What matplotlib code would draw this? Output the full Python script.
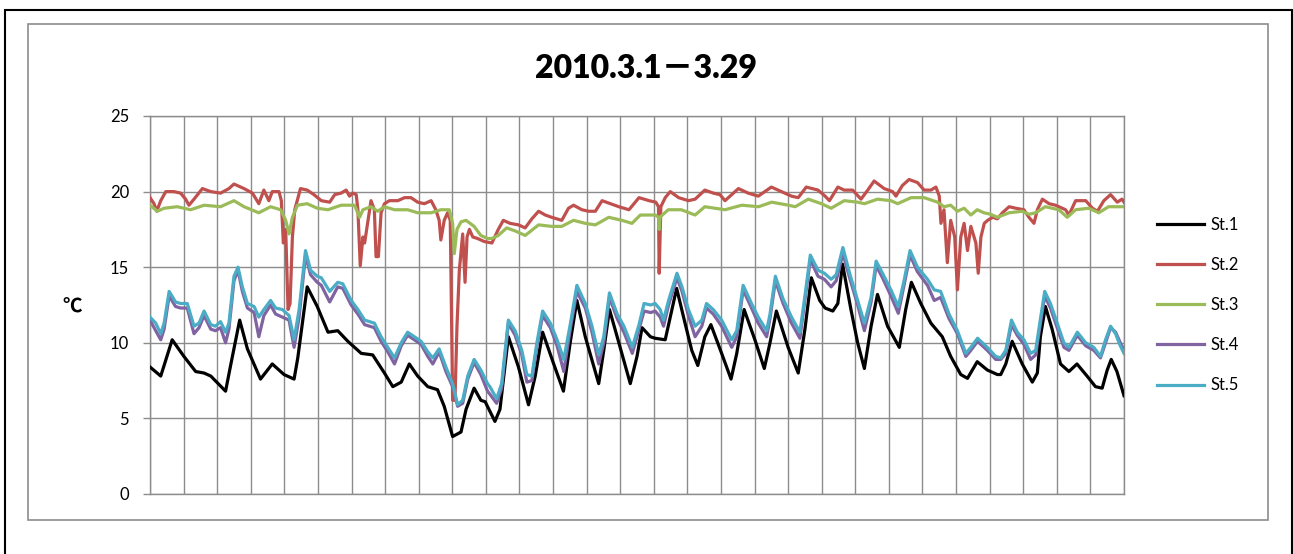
import matplotlib
matplotlib.use("Agg")
import matplotlib.pyplot as plt
from matplotlib.patches import Rectangle

# ---- data: elapsed days since 2010-03-01 00:00 and water temperature (°C) ----
st1_day = [0.00, 0.32, 0.66, 1.01, 1.36, 1.61, 1.81, 2.25, 2.40, 2.67, 2.90, 3.29, 3.64, 3.99,
           4.29, 4.40, 4.68, 4.98, 5.30, 5.59, 5.89, 6.29, 6.63, 6.98, 7.23, 7.48, 7.72, 7.97,
           8.27, 8.56, 8.76, 9.01, 9.26, 9.41, 9.65, 9.85, 9.98, 10.27, 10.42, 10.67, 10.97,
           11.27, 11.47, 11.69, 12.02, 12.31, 12.51, 12.71, 12.96, 13.36, 13.51, 13.68, 13.96,
           14.30, 14.50, 14.65, 14.90, 15.04, 15.34, 15.49, 15.68, 15.93, 16.13, 16.31, 16.52,
           16.70, 17.02, 17.30, 17.47, 17.69, 18.01, 18.29, 18.46, 18.65, 19.00, 19.30, 19.50,
           19.69, 19.94, 20.10, 20.33, 20.48, 20.62, 20.87, 21.07, 21.27, 21.47, 21.66, 21.96,
           22.31, 22.50, 22.67, 22.95, 23.25, 23.59, 23.84, 24.14, 24.34, 24.63, 24.93, 25.23,
           25.33, 25.48, 25.67, 25.97, 26.27, 26.42, 26.51, 26.66, 26.86, 27.11, 27.36, 27.60,
           27.90, 28.15, 28.35, 28.50, 28.62, 28.79, 29.00]
st1_temp = [8.4, 7.8, 10.2, 9.1, 8.1, 8.0, 7.8, 6.8, 8.5, 11.5, 9.6, 7.6, 8.6, 7.9,
            7.6, 9.0, 13.7, 12.4, 10.7, 10.8, 10.1, 9.3, 9.2, 8.0, 7.1, 7.4, 8.6, 7.8,
            7.1, 6.9, 5.8, 3.8, 4.1, 5.6, 7.0, 6.2, 6.1, 4.8, 5.6, 10.4, 8.4,
            5.9, 7.8, 10.7, 8.6, 6.8, 10.0, 12.8, 10.4, 7.3, 9.5, 12.2, 10.0,
            7.3, 9.1, 11.0, 10.4, 10.3, 10.2, 11.7, 13.6, 11.3, 9.5, 8.5, 10.4,
            11.2, 9.3, 7.6, 9.3, 12.2, 10.2, 8.3, 10.0, 12.1, 9.7, 8.0, 10.9,
            14.3, 12.8, 12.3, 12.1, 12.6, 15.2, 12.2, 10.0, 8.3, 11.1, 13.2, 11.1,
            9.7, 12.2, 14.0, 12.6, 11.3, 10.4, 9.1, 7.9, 7.65, 8.75, 8.2, 7.9,
            7.9, 8.6, 10.1, 8.6, 7.4, 8.0, 10.4, 12.4, 10.9, 8.6, 8.1, 8.6,
            7.8, 7.1, 7.0, 8.2, 8.9, 8.1, 6.5]

st2_day = [0.00, 0.12, 0.20, 0.32, 0.47, 0.71, 0.91, 1.06, 1.16, 1.31, 1.56, 1.81, 2.10, 2.35,
           2.50, 2.80, 3.05, 3.24, 3.39, 3.54, 3.64, 3.84, 3.91, 3.97, 4.04, 4.11, 4.17, 4.24,
           4.31, 4.48, 4.68, 4.88, 5.10, 5.35, 5.50, 5.69, 5.84, 5.94, 6.04, 6.14, 6.19, 6.26,
           6.34, 6.39, 6.49, 6.58, 6.68, 6.73, 6.80, 6.88, 6.98, 7.13, 7.38, 7.58, 7.77, 7.97,
           8.17, 8.37, 8.51, 8.61, 8.66, 8.76, 8.86, 8.94, 9.01, 9.08, 9.14, 9.21, 9.31, 9.38,
           9.44, 9.51, 9.61, 9.75, 9.95, 10.18, 10.37, 10.52, 10.72, 10.97, 11.17, 11.37, 11.57,
           11.77, 11.96, 12.26, 12.46, 12.61, 12.86, 13.06, 13.26, 13.46, 13.71, 13.96, 14.26,
           14.56, 14.86, 15.06, 15.14, 15.16, 15.21, 15.34, 15.49, 15.74, 16.03, 16.23, 16.52,
           16.77, 16.97, 17.12, 17.52, 17.81, 18.11, 18.50, 18.80, 19.10, 19.30, 19.54, 19.89,
           20.10, 20.23, 20.48, 20.67, 20.92, 21.17, 21.37, 21.56, 21.86, 22.11, 22.21, 22.40,
           22.60, 22.85, 23.05, 23.25, 23.40, 23.50, 23.55, 23.64, 23.74, 23.84, 23.96, 24.04,
           24.14, 24.24, 24.34, 24.44, 24.59, 24.66, 24.74, 24.84, 24.94, 25.09, 25.23, 25.38,
           25.58, 25.78, 26.02, 26.17, 26.32, 26.42, 26.57, 26.77, 26.96, 27.26, 27.36, 27.56,
           27.86, 28.06, 28.21, 28.40, 28.60, 28.80, 28.94, 29.00]
st2_temp = [19.6, 19.2, 18.7, 19.4, 20.0, 20.0, 19.9, 19.5, 19.1, 19.5, 20.2, 20.0, 19.9, 20.2,
            20.5, 20.2, 19.9, 19.2, 20.1, 19.4, 20.0, 20.0, 19.4, 16.6, 17.5, 12.2, 12.6, 17.0,
            18.8, 20.2, 20.1, 19.8, 19.4, 19.3, 19.8, 19.9, 20.1, 19.7, 19.9, 19.8, 18.8, 15.1,
            17.0, 16.6, 18.1, 19.4, 18.8, 15.7, 15.7, 18.6, 19.2, 19.4, 19.4, 19.6, 19.6, 19.3,
            19.2, 19.4, 18.8, 18.1, 16.8, 18.1, 18.6, 18.1, 6.2, 6.2, 11.1, 14.8, 17.2, 14.0,
            17.0, 17.5, 17.0, 16.9, 16.7, 16.6, 17.5, 18.1, 17.9, 17.8, 17.6, 18.2, 18.7,
            18.45, 18.3, 18.1, 18.9, 19.1, 18.8, 18.7, 18.7, 19.4, 19.2, 19.0, 18.8,
            19.6, 19.4, 19.3, 19.0, 14.6, 19.0, 19.6, 20.0, 19.6, 19.4, 19.5, 20.1,
            19.9, 19.8, 19.4, 20.2, 19.9, 19.7, 20.3, 20.0, 19.7, 19.6, 20.3, 20.1,
            19.7, 19.4, 20.3, 20.1, 20.1, 19.5, 20.1, 20.7, 20.2, 20.0, 19.7, 20.4,
            20.8, 20.6, 20.1, 20.1, 20.3, 19.7, 17.9, 18.8, 15.3, 18.1, 17.0, 13.5,
            17.0, 17.9, 16.1, 17.7, 16.6, 14.6, 17.0, 17.9, 18.1, 18.3, 18.2, 18.6,
            19.0, 18.9, 18.8, 18.3, 17.9, 18.8, 19.5, 19.2, 19.1, 18.8, 18.45, 19.4,
            19.4, 18.9, 18.7, 19.4, 19.8, 19.3, 19.5, 19.3]

st3_day = [0.00, 0.22, 0.42, 0.81, 1.21, 1.61, 2.10, 2.50, 2.80, 3.24, 3.59, 3.89, 4.04, 4.14,
           4.24, 4.39, 4.68, 4.98, 5.30, 5.69, 6.09, 6.24, 6.34, 6.58, 6.78, 6.98, 7.28, 7.67,
           7.97, 8.37, 8.66, 8.91, 9.01, 9.06, 9.14, 9.26, 9.41, 9.65, 9.85, 10.05, 10.18,
           10.37, 10.62, 10.87, 11.17, 11.57, 11.96, 12.26, 12.61, 12.96, 13.26, 13.66, 14.05,
           14.35, 14.60, 15.05, 15.14, 15.16, 15.18, 15.43, 15.82, 16.23, 16.52, 17.12, 17.62,
           18.12, 18.51, 19.01, 19.21, 19.60, 19.99, 20.28, 20.67, 21.07, 21.27, 21.66, 22.06,
           22.26, 22.66, 23.05, 23.45, 23.64, 23.84, 24.04, 24.24, 24.44, 24.63, 24.83, 25.03,
           25.23, 25.58, 25.97, 26.17, 26.37, 26.66, 27.06, 27.31, 27.56, 27.95, 28.25, 28.54,
           29.00]
st3_temp = [19.1, 18.7, 18.9, 19.0, 18.8, 19.1, 19.0, 19.4, 19.0, 18.6, 19.0, 18.8, 18.1, 17.2,
            18.3, 19.1, 19.2, 18.9, 18.8, 19.1, 19.1, 18.3, 18.8, 19.0, 18.7, 19.0, 18.8, 18.8,
            18.6, 18.6, 18.8, 18.8, 17.9, 15.9, 17.5, 18.0, 18.1, 17.7, 17.1, 16.9, 16.9,
            17.1, 17.6, 17.4, 17.1, 17.8, 17.7, 17.7, 18.1, 17.9, 17.8, 18.3, 18.1,
            17.9, 18.45, 18.45, 18.3, 17.5, 18.3, 18.8, 18.8, 18.45, 19.0, 18.8, 19.1,
            19.0, 19.3, 19.1, 19.0, 19.5, 19.2, 18.9, 19.4, 19.3, 19.2, 19.5, 19.4,
            19.2, 19.6, 19.6, 19.3, 19.0, 19.1, 18.7, 18.9, 18.45, 18.8, 18.6, 18.5,
            18.3, 18.6, 18.7, 18.5, 18.6, 19.0, 18.8, 18.3, 18.8, 18.9, 18.6, 19.0,
            19.0]

st45_day = [0.00, 0.17, 0.32, 0.42, 0.57, 0.76, 0.91, 1.11, 1.31, 1.46, 1.61, 1.81, 1.95, 2.10,
            2.25, 2.35, 2.50, 2.62, 2.75, 2.90, 3.10, 3.24, 3.39, 3.59, 3.74, 3.94, 4.14, 4.29,
            4.44, 4.63, 4.78, 4.98, 5.10, 5.35, 5.59, 5.74, 5.99, 6.19, 6.39, 6.68, 6.88, 7.08,
            7.28, 7.48, 7.67, 7.87, 8.07, 8.27, 8.42, 8.61, 8.81, 9.01, 9.16, 9.31, 9.46, 9.65,
            9.85, 10.05, 10.12, 10.32, 10.47, 10.67, 10.87, 11.07, 11.22, 11.37, 11.52, 11.69,
            11.92, 12.12, 12.32, 12.52, 12.71, 12.96, 13.16, 13.36, 13.51, 13.68, 13.91, 14.11,
            14.36, 14.56, 14.71, 14.91, 15.04, 15.19, 15.29, 15.44, 15.69, 15.84, 16.03, 16.23,
            16.43, 16.57, 16.77, 17.02, 17.32, 17.47, 17.66, 17.91, 18.11, 18.36, 18.46, 18.62,
            18.85, 19.10, 19.35, 19.50, 19.66, 19.89, 20.08, 20.28, 20.43, 20.63, 20.83, 21.07,
            21.27, 21.47, 21.62, 21.81, 22.06, 22.28, 22.46, 22.63, 22.85, 23.15, 23.35, 23.54,
            23.79, 24.04, 24.29, 24.44, 24.64, 24.93, 25.18, 25.33, 25.48, 25.65, 25.82, 26.02,
            26.22, 26.37, 26.52, 26.64, 26.81, 27.01, 27.21, 27.36, 27.61, 27.86, 28.10, 28.30,
            28.45, 28.60, 28.75, 28.87, 29.00]
st4_temp = [11.5, 10.8, 10.2, 10.9, 13.1, 12.4, 12.3, 12.3, 10.6, 11.0, 11.8, 10.9, 10.8, 11.0,
            10.0, 10.9, 14.1, 14.8, 13.4, 12.3, 12.0, 10.4, 11.8, 12.5, 11.9, 11.7, 11.5, 9.7,
            11.7, 15.8, 14.5, 14.0, 13.8, 12.7, 13.7, 13.6, 12.5, 11.9, 11.2, 11.0, 10.1, 9.4,
            8.6, 9.8, 10.5, 10.2, 9.9, 9.1, 8.6, 9.4, 8.1, 7.1, 5.8, 6.0, 7.6, 8.7,
            7.9, 6.8, 6.6, 6.0, 7.0, 11.3, 10.5, 9.2, 7.4, 7.5, 9.8, 11.8,
            11.0, 9.8, 8.1, 11.0, 13.4, 12.3, 10.7, 8.6, 10.0, 13.0, 11.6, 10.7,
            9.3, 10.9, 12.1, 12.0, 12.1, 11.7, 11.1, 12.5, 14.3, 13.4, 11.8, 10.4,
            11.1, 12.3, 11.9, 11.1, 9.7, 10.4, 13.5, 12.3, 11.3, 10.4, 11.6, 14.1,
            12.6, 11.3, 10.3, 12.8, 15.5, 14.4, 14.2, 13.7, 14.1, 15.9, 14.3, 12.5,
            10.8, 12.7, 15.1, 14.3, 13.1, 11.95, 13.9, 15.8, 14.7, 13.8, 12.8, 13.0,
            11.6, 10.6, 9.1, 9.5, 10.1, 9.5, 8.9, 8.9, 9.3, 11.2, 10.5, 9.9,
            8.9, 9.2, 11.4, 13.1, 12.3, 11.0, 9.7, 9.5, 10.5, 9.8, 9.5, 9.0,
            10.0, 11.0, 10.7, 10.1, 9.5]
st5_temp = [11.7, 11.3, 10.6, 11.3, 13.4, 12.7, 12.6, 12.6, 11.1, 11.3, 12.1, 11.2, 11.1, 11.4,
            10.7, 11.3, 14.4, 15.0, 13.7, 12.6, 12.4, 11.7, 12.2, 12.8, 12.3, 12.2, 11.8, 10.2,
            12.2, 16.1, 14.8, 14.4, 14.3, 13.4, 14.0, 13.9, 12.8, 12.2, 11.5, 11.3, 10.4, 9.7,
            9.0, 10.0, 10.7, 10.4, 10.1, 9.4, 9.0, 9.6, 8.4, 7.3, 5.9, 6.2, 7.8, 8.9,
            8.2, 7.3, 7.1, 6.3, 7.3, 11.5, 10.8, 9.5, 7.9, 7.8, 10.0, 12.1,
            11.3, 10.2, 8.9, 11.3, 13.8, 12.6, 11.1, 9.2, 10.4, 13.3, 11.9, 11.1,
            9.7, 11.2, 12.6, 12.5, 12.6, 12.2, 11.5, 12.8, 14.6, 13.7, 12.2, 11.1,
            11.5, 12.6, 12.2, 11.5, 10.2, 10.8, 13.8, 12.6, 11.7, 10.8, 11.9, 14.4,
            12.9, 11.7, 10.7, 13.1, 15.8, 14.8, 14.6, 14.2, 14.5, 16.3, 14.6, 12.8,
            11.3, 13.0, 15.4, 14.6, 13.5, 12.4, 14.2, 16.1, 15.0, 14.2, 13.5, 13.4,
            11.9, 10.8, 9.3, 9.7, 10.3, 9.7, 9.1, 9.0, 9.5, 11.5, 10.7, 10.2,
            9.3, 9.5, 11.7, 13.4, 12.6, 11.3, 10.0, 9.7, 10.7, 10.0, 9.7, 9.1,
            10.2, 11.1, 10.6, 9.9, 9.3]

station_names = ["St.1", "St.2", "St.3", "St.4", "St.5"]
title_text = "2010.3.1－3.29"
y_ticks = [0, 5, 10, 15, 20, 25]
n_days = 29

# ---- style ----
colors = ["#000000", "#C0504D", "#9BBB59", "#8064A2", "#4BACC6"]
grid_col = "#8C8C8C"
W, H = 1293, 554

plt.rcParams["font.family"] = ["Lato", "Noto Sans CJK JP", "DejaVu Sans"]

fig = plt.figure(figsize=(W / 100, H / 100), dpi=100)
ax = fig.add_axes([150 / W, 1 - 494 / H, (1124 - 150) / W, (494 - 116) / H])

series = [(st1_day, st1_temp), (st2_day, st2_temp), (st3_day, st3_temp),
          (st45_day, st4_temp), (st45_day, st5_temp)]
for (d, t), name, c in zip(series, station_names, colors):
    ax.plot(d, t, color=c, lw=2.3, label=name, solid_joinstyle="round", zorder=3)

ax.set_xlim(0, n_days)
ax.set_ylim(y_ticks[0], y_ticks[-1])
ax.set_xticks(range(n_days + 1))
ax.set_yticks(y_ticks)
ax.tick_params(axis="x", length=0, labelbottom=False)
ax.tick_params(axis="y", length=5, width=1.0, color=grid_col, pad=10,
               labelsize=12, labelcolor="#000000")
ax.grid(True, color=grid_col, lw=1.0, zorder=1)
ax.set_axisbelow(True)
for sp in ax.spines.values():
    sp.set_color(grid_col)
    sp.set_linewidth(1.0)

# title and unit label
fig.text(0.5, 1 - 68 / H, title_text, ha="center", va="center", fontsize=23,
         fontweight="heavy", family=["Lato", "Noto Sans CJK JP"])
fig.text(72 / W, 1 - 307 / H, "℃", ha="center", va="center", fontsize=14,
         fontweight="bold", family=["Noto Sans CJK JP", "DejaVu Sans"])

# legend at the right
ax.legend(loc="center left", bbox_to_anchor=(1157 / W, 1 - 305 / H),
          bbox_transform=fig.transFigure, frameon=False, borderpad=0,
          borderaxespad=0, handlelength=2.8, handletextpad=0.4,
          labelspacing=1.45, fontsize=12)

# chart area border and outer frame
fig.patches.append(Rectangle((28 / W, 1 - 520 / H), (1268 - 28) / W, (520 - 24) / H,
                             transform=fig.transFigure, fill=False,
                             ec=grid_col, lw=1.2))
fig.patches.append(Rectangle((5 / W, -0.05), (1292 - 5) / W, (554 - 10) / H + 0.05,
                             transform=fig.transFigure, fill=False,
                             ec="#000000", lw=1.5))

fig.savefig("out.png", dpi=100, facecolor="white")
